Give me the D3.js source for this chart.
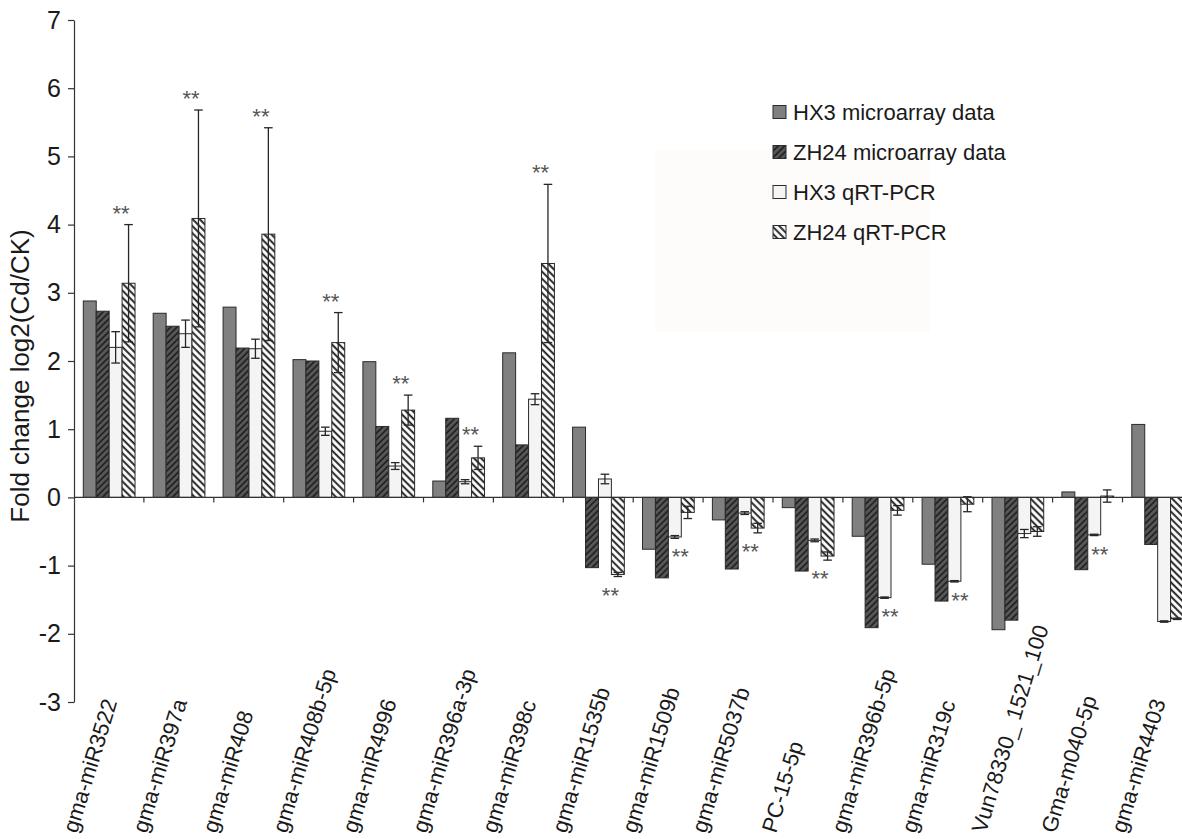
<!DOCTYPE html>
<html>
<head>
<meta charset="utf-8">
<script src="https://cdn.jsdelivr.net/npm/d3@7"></script>
<style>
  html, body { margin: 0; padding: 0; background: #ffffff; }
  svg { display: block; }
  text { font-family: "Liberation Sans", Arial, sans-serif; fill: #1a1a1a; }
</style>
</head>
<body>
<svg id="chart" width="1182" height="839"></svg>
<script>
const categories = ["gma-miR3522","gma-miR397a","gma-miR408","gma-miR408b-5p","gma-miR4996","gma-miR396a-3p","gma-miR398c","gma-miR1535b","gma-miR1509b","gma-miR5037b","PC-15-5p","gma-miR396b-5p","gma-miR319c","Vun78330_ 1521_100","Gma-m040-5p","gma-miR4403"];
const seriesNames = ["HX3 microarray data","ZH24 microarray data","HX3 qRT-PCR","ZH24 qRT-PCR"];
const hx3Micro   = [2.88, 2.70, 2.79, 2.02, 1.99, 0.24, 2.12, 1.03, -0.76, -0.33, -0.15, -0.57, -0.98, -1.94, 0.08, 1.07];
const zh24Micro  = [2.73, 2.51, 2.19, 2.00, 1.04, 1.16, 0.77, -1.03, -1.18, -1.05, -1.08, -1.91, -1.52, -1.80, -1.06, -0.69];
const hx3Qpcr    = [2.20, 2.40, 2.18, 0.97, 0.46, 0.23, 1.44, 0.27, -0.58, -0.23, -0.63, -1.47, -1.23, -0.53, -0.55, -1.82];
const hx3QpcrErr = [0.23, 0.20, 0.14, 0.06, 0.05, 0.03, 0.08, 0.07, 0.02, 0.02, 0.02, 0.01, 0.01, 0.06, 0.01, 0.01];
const zh24Qpcr   = [3.14, 4.09, 3.86, 2.27, 1.28, 0.58, 3.43, -1.13, -0.22, -0.45, -0.86, -0.19, -0.10, -0.50, 0.02, -1.78];
const zh24QpcrErr= [0.86, 1.59, 1.56, 0.44, 0.22, 0.17, 1.16, 0.03, 0.09, 0.07, 0.06, 0.07, 0.11, 0.07, 0.09, 0.01];
// 1 = "**" above, -1 = "**" below, 0 = none
const significance = [1, 1, 1, 1, 1, 1, 1, -1, -1, -1, -1, -1, -1, 0, -1, 0];
const yTicks = [-3, -2, -1, 0, 1, 2, 3, 4, 5, 6, 7];

const svg = d3.select("#chart");
const W = 1182, H = 839;
const axisX = 74, catW = 69.9;
const defs = svg.append("defs");

// faint background artifact near legend
svg.append("rect").attr("x", 655).attr("y", 150).attr("width", 275).attr("height", 182).attr("fill", "#fefbfb");

// patterns
const p1 = defs.append("pattern").attr("id", "hatchDark").attr("patternUnits", "userSpaceOnUse")
  .attr("width", 4.5).attr("height", 4.5).attr("patternTransform", "rotate(45)");
p1.append("rect").attr("width", 4.5).attr("height", 4.5).attr("fill", "#575757");
p1.append("line").attr("x1", 1).attr("y1", 0).attr("x2", 1).attr("y2", 4.5).attr("stroke", "#151515").attr("stroke-width", 1.4);

const p2 = defs.append("pattern").attr("id", "hatchLight").attr("patternUnits", "userSpaceOnUse")
  .attr("width", 5).attr("height", 5).attr("patternTransform", "rotate(-45)");
p2.append("rect").attr("width", 5).attr("height", 5).attr("fill", "#ffffff");
p2.append("line").attr("x1", 1.2).attr("y1", 0).attr("x2", 1.2).attr("y2", 5).attr("stroke", "#1a1a1a").attr("stroke-width", 1.9);

const fills = ["#808080", "url(#hatchDark)", "#f4f4f4", "url(#hatchLight)"];

const y = d3.scaleLinear().domain([-3, 7]).range([702, 20]);
const x0 = d3.scaleBand().domain(categories).range([axisX, axisX + catW * categories.length]).padding(0);
const bw = x0.bandwidth();
const x1 = d3.scaleBand().domain(seriesNames).range([bw * 0.133, bw * 0.873]).padding(0);

const valuesBySeries = [hx3Micro, zh24Micro, hx3Qpcr, zh24Qpcr];
const errBySeries = [null, null, hx3QpcrErr, zh24QpcrErr];

const rows = [];
categories.forEach((c, i) => {
  seriesNames.forEach((s, k) => {
    rows.push({cat: c, series: s, k: k, v: valuesBySeries[k][i], e: errBySeries[k] ? errBySeries[k][i] : null});
  });
});

// bars
svg.append("g").selectAll("rect").data(rows).join("rect")
  .attr("x", d => x0(d.cat) + x1(d.series))
  .attr("y", d => y(Math.max(0, d.v)))
  .attr("width", x1.bandwidth())
  .attr("height", d => Math.abs(y(d.v) - y(0)))
  .attr("fill", d => fills[d.k])
  .attr("stroke", "#2a2a2a").attr("stroke-width", 1);

// error bars
const errRows = rows.filter(d => d.e !== null);
const eg = svg.append("g").attr("stroke", "#262626").attr("stroke-width", 1.3).attr("fill", "none");
errRows.forEach(d => {
  const cx = x0(d.cat) + x1(d.series) + x1.bandwidth() / 2;
  const yt = y(d.v + d.e), yb = y(d.v - d.e);
  eg.append("line").attr("x1", cx).attr("x2", cx).attr("y1", yt).attr("y2", yb);
  eg.append("line").attr("x1", cx - 4.3).attr("x2", cx + 4.3).attr("y1", yt).attr("y2", yt);
  eg.append("line").attr("x1", cx - 4.3).attr("x2", cx + 4.3).attr("y1", yb).attr("y2", yb);
});

// zero line with category ticks
const zg = svg.append("g").attr("stroke", "#333").attr("stroke-width", 1.2);
zg.append("line").attr("x1", axisX).attr("x2", W).attr("y1", y(0)).attr("y2", y(0));
categories.forEach((c) => {
  const xe = x0(c) + bw;
  zg.append("line").attr("x1", xe).attr("x2", xe).attr("y1", y(0)).attr("y2", y(0) + 5);
});

// y axis
const yAxis = d3.axisLeft(y).tickValues(yTicks).tickFormat(d => String(d)).tickSize(6).tickSizeOuter(0).tickPadding(7);
const ya = svg.append("g").attr("transform", `translate(${axisX},0)`).call(yAxis);
ya.select(".domain").attr("stroke", "#333").attr("stroke-width", 1.2);
ya.selectAll(".tick line").attr("stroke", "#333").attr("stroke-width", 1.2);
ya.selectAll(".tick text").attr("font-size", 25).attr("font-family", "Liberation Sans, Arial, sans-serif").attr("fill", "#1a1a1a");

// y label
svg.append("text")
  .attr("transform", `translate(29,376) rotate(-90)`)
  .attr("text-anchor", "middle")
  .attr("font-size", 26)
  .text("Fold change log2(Cd/CK)");

// x labels
svg.append("g").selectAll("text").data(categories).join("text")
  .attr("transform", d => `translate(${x0(d) + bw / 2 - 32},834) rotate(-73)`)
  .attr("text-anchor", "start")
  .attr("font-size", 22)
  .text(d => d);

// significance stars
const starG = svg.append("g");
categories.forEach((c, i) => {
  const s = significance[i];
  if (!s) return;
  const hi = Math.max(hx3Qpcr[i] + hx3QpcrErr[i], zh24Qpcr[i] + zh24QpcrErr[i]);
  const lo = Math.min(hx3Qpcr[i] - hx3QpcrErr[i], zh24Qpcr[i] - zh24QpcrErr[i]);
  const cy = s > 0 ? y(hi) - 15 : y(lo) + 15;
  const cx = x0(c) + x1(seriesNames[2]) + x1.bandwidth() - 1;
  starG.append("text")
    .attr("x", cx).attr("y", cy + 11)
    .attr("text-anchor", "middle")
    .attr("font-family", "Liberation Serif, Times New Roman, serif")
    .attr("font-size", 22)
    .style("fill", "#555")
    .text("**");
});

// legend
const lg = svg.append("g");
seriesNames.forEach((s, k) => {
  const cy = 112 + k * 40;
  lg.append("rect").attr("x", 773).attr("y", cy - 6.5).attr("width", 13).attr("height", 13)
    .attr("fill", fills[k]).attr("stroke", "#2a2a2a").attr("stroke-width", 1);
  lg.append("text").attr("x", 793).attr("y", cy + 8).attr("font-size", 22).text(s);
});
</script>
</body>
</html>
